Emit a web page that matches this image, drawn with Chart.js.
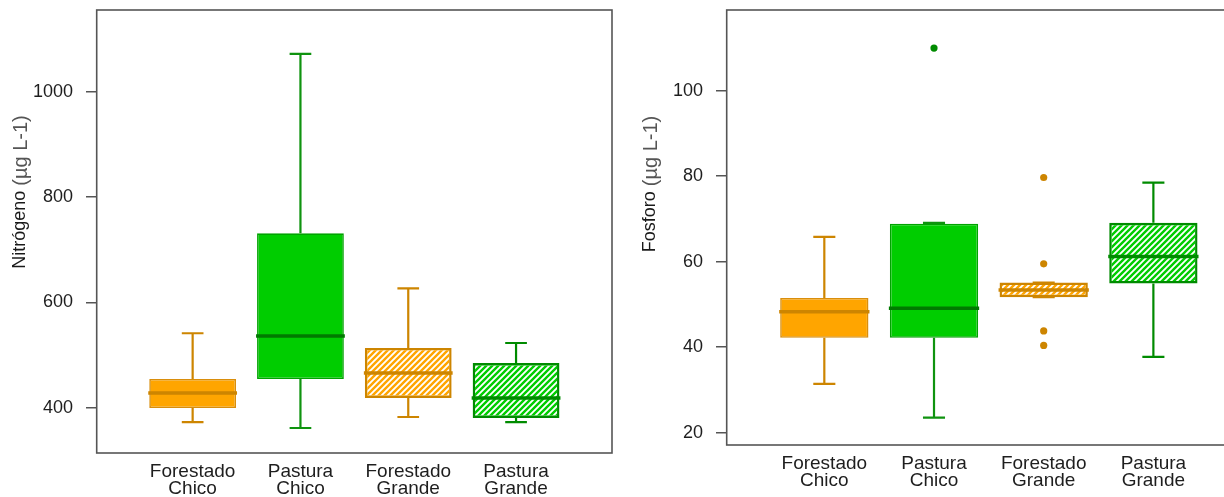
<!DOCTYPE html>
<html lang="es">
<head>
<meta charset="utf-8">
<title>Nitrógeno y fósforo por uso del suelo</title>
<script src="https://cdn.jsdelivr.net/npm/chart.js@4.4.0/dist/chart.umd.min.js"></script>
<style>
  html, body { margin: 0; padding: 0; background: #fff; }
  #lienzo { position: relative; width: 1224px; height: 497px; overflow: hidden; }
  #nitro { position: absolute; left: 0; top: 0; }
  #fosf { position: absolute; left: 615px; top: 0; }
</style>
</head>
<body>
<div id="lienzo">
  <canvas id="nitro" width="615" height="497"></canvas>
  <canvas id="fosf" width="640" height="497"></canvas>
</div>
<script>
"use strict";

var categorias = [["Forestado", "Chico"], ["Pastura", "Chico"], ["Forestado", "Grande"], ["Pastura", "Grande"]];

// Nitrógeno: extremos de bigotes, cuartiles y mediana por grupo
var nitroMin     = [372.8, 361.5, 382.3, 372.8];
var nitroQ1      = [399.4, 454.5, 418.4, 380.4];
var nitroMediana = [427.9, 536.0, 465.9, 418.4];
var nitroQ3      = [454.5, 731.0, 513.4, 484.9];
var nitroMax     = [541.3, 1071.6, 626.7, 522.8];
var nitroMarcas  = [400, 600, 800, 1000];

// Fósforo
var fosfMin     = [31.4, 23.5, 51.7, 37.7];
var fosfQ1      = [42.2, 42.2, 51.7, 54.9];
var fosfMediana = [48.3, 49.1, 53.4, 61.2];
var fosfQ3      = [51.5, 68.9, 55.1, 69.1];
var fosfMax     = [65.8, 69.1, 55.1, 78.5];
var fosfAtipicosGrupo = [2, 3, 3, 3, 3];
var fosfAtipicosValor = [110.0, 79.7, 59.5, 43.8, 40.4];
var fosfMarcas  = [20, 40, 60, 80, 100];

var FUENTE = "'Liberation Sans', Arial, sans-serif";
var naranja = "#FFA500", naranjaOsc = "#CD8500", naranjaBorde = "#D98E0C";
var verde = "#00CD00", verdeOsc = "#008B00", verdeBorde = "#00A300";

// trama diagonal para las cajas de los arroyos grandes
function rayado(ctx, color) {
	var p = 6;
	var c = document.createElement("canvas");
	c.width = p;
	c.height = p;
	var g = c.getContext("2d");
	g.strokeStyle = color;
	g.lineWidth = 2.4;
	g.beginPath();
	for (var k = -1; k <= 1; k++) {
		var b = p + k * p;
		g.moveTo(-1, b + 1);
		g.lineTo(p + 1, b - p - 1);
	}
	g.stroke();
	return ctx.createPattern(c, "repeat");
}

var boxplotPlugin = {
	id: "boxplot",
	afterDatasetsDraw: function(chart, args, opts) {
		var ctx = chart.ctx, x = chart.scales.x, y = chart.scales.y;
		var barras = chart.getDatasetMeta(0).data;
		ctx.save();
		opts.mediana.forEach(function(med, i) {
			var cx = x.getPixelForValue(i + 1);
			var w = barras[i].width;
			var tope = w * 0.125;
			var pMin = y.getPixelForValue(opts.min[i]), pMax = y.getPixelForValue(opts.max[i]);

			// bigotes y topes
			ctx.strokeStyle = opts.colorBigote[i];
			ctx.lineWidth = 2.2;
			ctx.beginPath();
			ctx.moveTo(cx, y.getPixelForValue(opts.q1[i]));
			ctx.lineTo(cx, pMin);
			ctx.moveTo(cx, y.getPixelForValue(opts.q3[i]));
			ctx.lineTo(cx, pMax);
			ctx.moveTo(cx - tope, pMin);
			ctx.lineTo(cx + tope, pMin);
			ctx.moveTo(cx - tope, pMax);
			ctx.lineTo(cx + tope, pMax);
			ctx.stroke();

			// mediana
			var pm = y.getPixelForValue(med);
			ctx.strokeStyle = opts.colorMediana[i];
			ctx.lineWidth = 3.5;
			ctx.beginPath();
			ctx.moveTo(cx - w / 2 - 1, pm);
			ctx.lineTo(cx + w / 2 + 1, pm);
			ctx.stroke();
		});
		ctx.restore();
	},
	afterDraw: function(chart, args, opts) {
		var ctx = chart.ctx, a = chart.chartArea;
		ctx.save();
		// marco del panel
		ctx.strokeStyle = "#555";
		ctx.lineWidth = 1.6;
		ctx.strokeRect(a.left, a.top, a.right - a.left, a.bottom - a.top);

		// título del eje y, con la unidad en otro tono
		ctx.translate(opts.tituloX, opts.tituloY);
		ctx.rotate(-Math.PI / 2);
		ctx.textBaseline = "alphabetic";
		ctx.font = "18px " + FUENTE;
		var w1 = ctx.measureText(opts.titulo + " ").width;
		ctx.font = "20px " + FUENTE;
		var w2 = ctx.measureText(opts.unidad).width;
		var x0 = -(w1 + w2) / 2;
		ctx.font = "18px " + FUENTE;
		ctx.fillStyle = "#1a1a1a";
		ctx.fillText(opts.titulo + " ", x0, 0);
		ctx.font = "20px " + FUENTE;
		ctx.fillStyle = "#555";
		ctx.fillText(opts.unidad, x0 + w1, 2);
		ctx.restore();
	}
};

function crearGrafico(id, cfg) {
	var canvas = document.getElementById(id);
	var ctx = canvas.getContext("2d");

	var datasets = [{
		type: "bar",
		data: cfg.q1.map(function(q, i) {
			return { x: i + 1, y: [q, cfg.q3[i]] };
		}),
		backgroundColor: [naranja, verde, rayado(ctx, naranja), rayado(ctx, verde)],
		borderColor: [naranjaBorde, verdeBorde, naranjaOsc, verdeOsc],
		borderWidth: [1.6, 1.6, 2.4, 2.4],
		borderSkipped: false,
		categoryPercentage: 1,
		barPercentage: 0.805
	}];

	if (cfg.atipicosGrupo) {
		datasets.push({
			type: "scatter",
			data: cfg.atipicosGrupo.map(function(g, i) {
				return { x: g, y: cfg.atipicosValor[i] };
			}),
			pointRadius: 3.6,
			pointBorderWidth: 0,
			pointBackgroundColor: cfg.atipicosGrupo.map(function(g) {
				return g % 2 === 0 ? verdeOsc : naranjaOsc;
			})
		});
	}

	return new Chart(ctx, {
		type: "bar",
		data: { datasets: datasets },
		options: {
			responsive: false,
			animation: false,
			devicePixelRatio: 1,
			layout: { padding: { top: 10, right: cfg.padDer, left: 0, bottom: 0 } },
			plugins: {
				legend: { display: false },
				tooltip: { enabled: false },
				boxplot: {
					min: cfg.min, q1: cfg.q1, mediana: cfg.mediana, q3: cfg.q3, max: cfg.max,
					colorBigote: [naranjaOsc, "#0F930F", naranjaOsc, verdeOsc],
					colorMediana: [naranjaOsc, "#007A00", naranjaOsc, verdeOsc],
					titulo: cfg.titulo, unidad: "(µg L-1)",
					tituloX: cfg.tituloX, tituloY: cfg.tituloY
				}
			},
			scales: {
				x: {
					type: "linear",
					min: 0.11,
					max: 4.89,
					offset: false,
					afterBuildTicks: function(s) {
						s.ticks = categorias.map(function(c, i) { return { value: i + 1 }; });
					},
					afterFit: function(s) {
						s.height = cfg.altoEjeX;
						s.paddingLeft = 0;
						s.paddingRight = 0;
					},
					grid: { display: false, drawTicks: false },
					border: { display: false },
					ticks: {
						autoSkip: false,
						maxRotation: 0,
						padding: 10,
						color: "#1e1e1e",
						font: { family: FUENTE, size: 19, lineHeight: 0.9 },
						callback: function(v) { return categorias[v - 1]; }
					}
				},
				y: {
					min: cfg.yMin,
					max: cfg.yMax,
					afterBuildTicks: function(s) {
						s.ticks = cfg.marcas.map(function(v) { return { value: v }; });
					},
					afterFit: function(s) {
						s.width = cfg.anchoEjeY;
						s.paddingTop = 0;
						s.paddingBottom = 0;
					},
					grid: { drawOnChartArea: false, drawTicks: true, tickLength: 10.7, color: "#555", lineWidth: 1.5 },
					border: { display: false },
					ticks: {
						padding: 13,
						color: "#1e1e1e",
						font: { family: FUENTE, size: 18 },
						callback: function(v) { return String(v); }
					}
				}
			}
		},
		plugins: [boxplotPlugin]
	});
}

crearGrafico("nitro", {
	min: nitroMin, q1: nitroQ1, mediana: nitroMediana, q3: nitroQ3, max: nitroMax,
	marcas: nitroMarcas, yMin: 314, yMax: 1155,
	titulo: "Nitrógeno", tituloX: 25, tituloY: 192,
	anchoEjeY: 96.7, altoEjeX: 44, padDer: 3
});

crearGrafico("fosf", {
	min: fosfMin, q1: fosfQ1, mediana: fosfMediana, q3: fosfQ3, max: fosfMax,
	atipicosGrupo: fosfAtipicosGrupo, atipicosValor: fosfAtipicosValor,
	marcas: fosfMarcas, yMin: 17.1, yMax: 118.9,
	titulo: "Fosforo", tituloX: 40, tituloY: 184,
	anchoEjeY: 111.7, altoEjeX: 52, padDer: 4
});
</script>
</body>
</html>
